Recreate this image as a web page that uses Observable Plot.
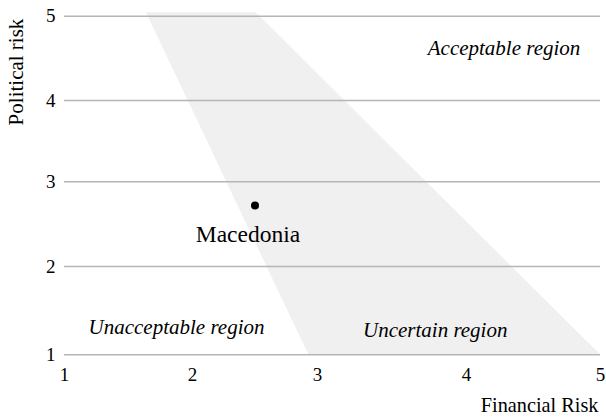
<!DOCTYPE html>
<html><head><meta charset="utf-8">
<script src="https://cdn.jsdelivr.net/npm/d3@7"></script>
<script src="https://cdn.jsdelivr.net/npm/@observablehq/plot@0.6"></script>
<style>
html,body{margin:0;padding:0;background:#fff;}
#chart svg, #chart svg text { font-family: "Liberation Serif", "Times New Roman", serif !important; }
</style>
</head><body><div id="chart"></div>
<script>
const ticks = [1, 2, 3, 4, 5];
const zoneY = [1, 5.04];
const zoneLeft = [2.93, 1.64];
const zoneRight = [5, 2.51];
const regionNames = ["Acceptable region", "Unacceptable region", "Uncertain region"];
const regionX = [4.28, 1.875, 3.79];
const regionY = [4.62, 1.31, 1.28];
const countries = ["Macedonia"];
const financialRisk = [2.5];
const politicalRisk = [2.72];
const xTitle = "Financial Risk";
const yTitle = "Political risk";

const font = "Liberation Serif";
const zone = zoneY.map((y, i) => ({y, x1: zoneLeft[i], x2: zoneRight[i]}));
const regions = regionNames.map((name, i) => ({name, x: regionX[i], y: regionY[i]}));
const points = countries.map((name, i) => ({name, x: financialRisk[i], y: politicalRisk[i]}));

const chart = Plot.plot({
  width: 606, height: 417,
  marginLeft: 64, marginRight: 6, marginTop: 15.7, marginBottom: 62.7,
  style: {fontFamily: font, fontSize: "19px", color: "#000", background: "#fff", overflow: "visible"},
  x: {type: "linear", domain: ticks, range: [64, 192, 317, 466, 600], ticks: ticks, tickSize: 0, tickPadding: 13, label: null, tickFormat: d => String(d)},
  y: {type: "linear", domain: ticks, range: [354.3, 266, 181.3, 100, 15.7], ticks: ticks, tickSize: 0, tickPadding: 9, label: null, tickFormat: d => String(d)},
  marks: [
    Plot.areaX(zone, {y: "y", x1: "x1", x2: "x2", fill: "#f0f0f0"}),
    Plot.ruleY(ticks, {x1: ticks[0], x2: ticks[ticks.length - 1], stroke: "#b5b5b5", strokeWidth: 1.6}),
    Plot.text(regions, {x: "x", y: "y", text: "name", fontFamily: font, fontStyle: "italic", fontSize: 21, fill: "#000"}),
    Plot.dot(points, {x: "x", y: "y", r: 4, fill: "#000", stroke: "none"}),
    Plot.text(points, {x: "x", y: "y", text: "name", dx: -7, dy: 29, fontFamily: font, fontSize: 23.5, fill: "#000"}),
    Plot.text([yTitle], {frameAnchor: "top-left", rotate: -90, textAnchor: "middle", dx: -56, dy: 55.8, fontFamily: font, fontSize: 21, fill: "#000"}),
    Plot.text([xTitle], {frameAnchor: "bottom-right", textAnchor: "end", dx: -2, dy: 57, fontFamily: font, fontSize: 20.3, fill: "#000"})
  ]
});
document.getElementById("chart").append(chart);
</script>
</body></html>
